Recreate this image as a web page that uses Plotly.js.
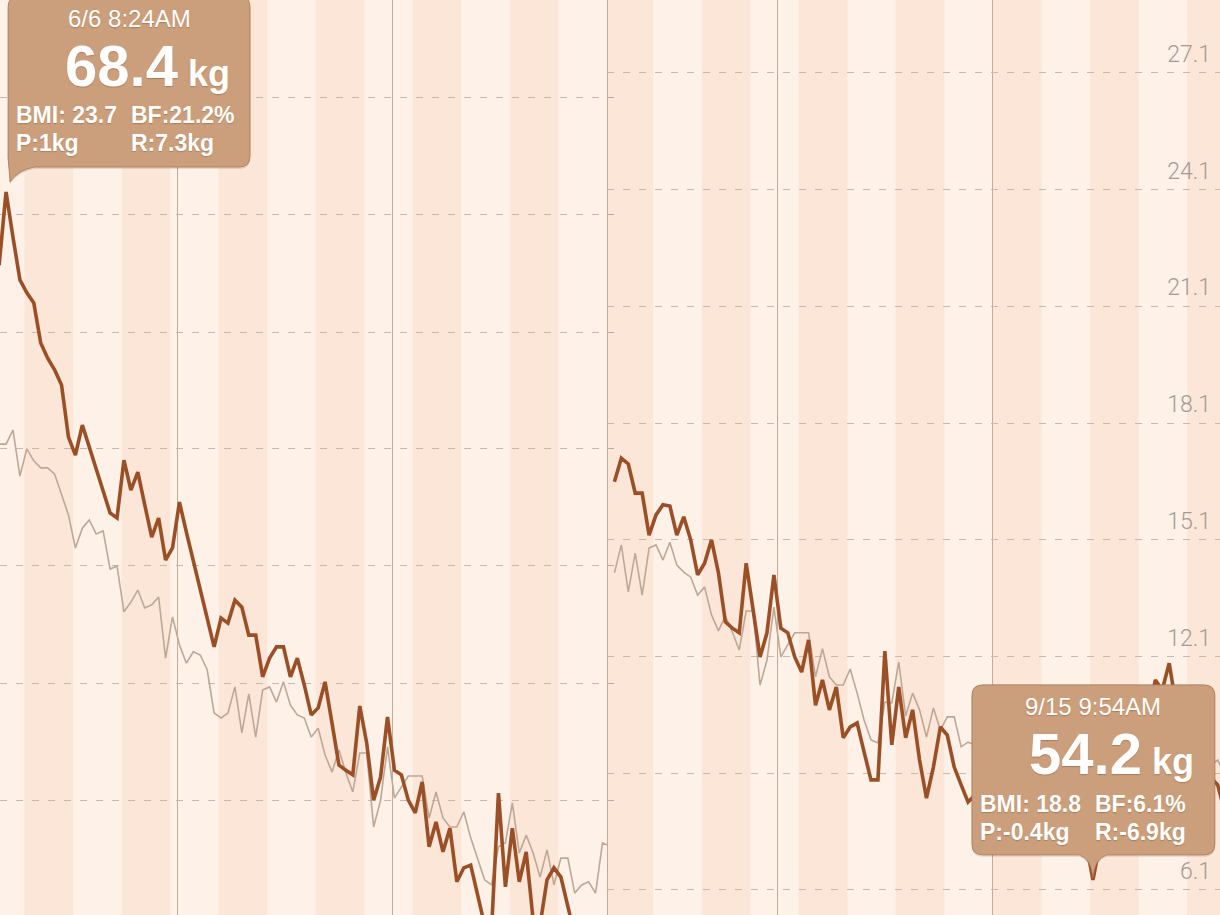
<!DOCTYPE html>
<html>
<head>
<meta charset="utf-8">
<script src="https://cdn.plot.ly/plotly-3.0.1.min.js"></script>
<style>
  html, body { margin: 0; padding: 0; background: #fdf1e8; }
  #chart { width: 1220px; height: 915px; }
</style>
</head>
<body>
<div id="chart"></div>
<script>
// daily readings, first reading of each panel
const leftStart = "2013-06-05 08:24";
const rightStart = "2013-07-08 09:54";

// brown line (weight) and grey line (body fat) in axis units
const leftWeight = [
  22.16, 24.04, 22.88, 21.78, 21.45, 21.19, 20.16, 19.77, 19.47, 19.08,
  17.74, 17.28, 18.05, 17.49, 16.95, 16.38, 15.79, 15.66, 17.15, 16.38,
  16.84, 16.00, 15.17, 15.66, 14.58, 14.89, 16.07, 15.30, 14.56, 13.79,
  13.04, 12.35, 13.09, 12.96, 13.55, 13.37, 12.65, 12.65, 11.58, 12.06,
  12.35, 12.35, 11.58, 12.06, 11.37, 10.60, 10.78, 11.45, 10.39, 9.31,
  9.18, 9.06, 10.83, 9.88, 8.41, 9.00, 10.55, 9.18, 9.06, 8.41,
  8.08, 8.88, 7.21, 7.85, 7.08, 7.69, 6.31, 6.67, 6.74, 6.02,
  5.20, 5.07, 8.59, 6.18, 7.69, 6.31, 7.08, 5.33, 5.20, 6.36,
  6.67, 6.43, 5.71, 4.94
];
const leftBodyFat = [
  17.56, 17.56, 17.92, 16.74, 17.44, 17.13, 16.95, 16.95, 16.79, 16.25,
  15.74, 14.89, 15.40, 15.61, 15.25, 15.33, 14.35, 14.43, 13.25, 13.50,
  13.81, 13.35, 13.43, 13.63, 12.06, 13.12, 12.40, 11.93, 12.22, 12.14,
  11.76, 10.65, 10.52, 10.65, 11.32, 10.14, 11.14, 10.03, 11.24, 11.32,
  10.93, 11.45, 10.85, 10.60, 10.52, 10.03, 10.26, 9.57, 9.13, 9.70,
  9.11, 8.62, 9.62, 9.62, 7.72, 8.41, 9.78, 8.46, 8.75, 9.03,
  9.03, 9.03, 7.95, 8.62, 7.95, 7.72, 7.72, 8.11, 7.44, 6.87,
  6.36, 6.23, 7.21, 7.31, 8.34, 7.05, 7.51, 7.05, 6.43, 7.13,
  6.23, 6.92, 6.92, 6.02, 6.23, 6.31, 6.02, 7.31, 7.23
];
const rightWeight = [
  16.59, 17.20, 17.05, 16.30, 16.30, 15.22, 15.74, 16.00, 15.97, 15.22,
  15.69, 15.10, 14.20, 14.50, 15.10, 14.25, 12.99, 12.83, 12.71, 14.50,
  13.30, 12.09, 12.71, 14.20, 12.83, 12.71, 12.09, 11.70, 12.53, 10.85,
  11.50, 10.73, 11.32, 10.01, 10.29, 10.39, 9.65, 8.93, 8.93, 12.24,
  9.83, 11.32, 10.01, 10.73, 9.44, 8.46, 9.26, 10.29, 10.08, 9.26,
  8.80, 8.36, 8.54, 8.16, 8.41, 7.90, 8.11, 7.64, 7.95, 7.51,
  7.77, 7.39, 7.64, 7.33, 7.51, 7.26, 7.44, 7.23, 7.33, 6.36,
  7.26, 7.64, 8.03, 8.41, 8.80, 9.18, 9.83, 10.47, 11.50, 11.24,
  11.93, 10.85, 10.21, 9.83, 9.44, 9.18, 8.98, 8.80, 8.11
];
const rightBodyFat = [
  14.25, 14.97, 13.76, 14.76, 13.68, 14.89, 14.97, 14.58, 15.04, 14.45,
  14.27, 14.14, 13.68, 13.89, 13.17, 12.76, 13.14, 12.73, 12.27, 13.27,
  13.27, 11.37, 12.01, 13.37, 12.09, 12.42, 12.71, 12.71, 12.71, 11.58,
  12.30, 11.58, 11.37, 11.37, 11.78, 11.16, 10.47, 9.96, 9.88, 10.93,
  10.91, 11.96, 10.57, 11.16, 10.73, 10.03, 10.78, 10.21, 10.55, 10.55,
  9.78, 9.90, 9.83, 9.70, 9.75, 9.49, 9.44, 9.31, 9.18, 9.23,
  9.06, 8.93, 8.80, 8.67, 8.72, 8.54, 8.41, 8.28, 8.16, 8.03,
  8.21, 8.41, 8.54, 8.67, 8.80, 8.93, 9.06, 9.18, 9.31, 9.44,
  9.49, 9.44, 9.39, 9.31, 9.44, 9.39, 9.31, 9.44, 9.06
];

const rightTicks = [6.1, 9.1, 12.1, 15.1, 18.1, 21.1, 24.1, 27.1];
const leftTicks = [8.41, 11.42, 14.43, 17.44, 20.44, 23.45, 26.46];

const callouts = [
  { when: "2013-06-06 08:24", header: "6/6 8:24AM", weight: "68.4", bmi: "BMI: 23.7", bf: "BF:21.2%", p: "P:1kg", r: "R:7.3kg" },
  { when: "2013-09-15 09:54", header: "9/15 9:54AM", weight: "54.2", bmi: "BMI: 18.8", bf: "BF:6.1%", p: "P:-0.4kg", r: "R:-6.9kg" },
];

(() => {
    "use strict";

    const DAY = 864e5;
    const toMs = (s) => Date.parse(s.replace(" ", "T") + ":00Z");
    const fmt = (ms) => new Date(ms).toISOString().slice(0, 16).replace("T", " ");
    const dailyDates = (start, n) => Array.from({ length: n }, (_, i) => fmt(toMs(start) + i * DAY));

    const leftDates = dailyDates(leftStart, leftBodyFat.length);
    const rightDates = dailyDates(rightStart, rightBodyFat.length);

    const yRange = [5.457, 28.976];
    const brown = "#9a4f27";
    const grey = "#bea795";
    const monthLine = "#c3aa9a";
    const dashLine = "#cdb6aa";
    const paleWeek = "#fdf1e8";
    const darkWeek = "#fce6d8";

    const line = (x, y, xa, ya, color, width) => ({
        x, y, xaxis: xa, yaxis: ya, type: "scatter", mode: "lines",
        line: { color, width }, hoverinfo: "skip",
    });

    const traces = [
        line(leftDates, leftBodyFat, "x", "y", grey, 1.6),
        line(leftDates.slice(0, leftWeight.length), leftWeight, "x", "y", brown, 3.6),
        line(rightDates, rightBodyFat, "x2", "y2", grey, 1.6),
        line(rightDates, rightWeight, "x2", "y2", brown, 3.6),
    ];

    // weekly background bands, every other week darker
    const shapes = [];
    for (let t = toMs("2013-05-26 00:00"); t < toMs("2013-10-20 00:00"); t += 14 * DAY) {
        [["x", "y domain"], ["x2", "y2 domain"]].forEach(([xr, yr]) => {
            shapes.push({
                type: "rect", layer: "below", xref: xr, yref: yr,
                x0: fmt(t), x1: fmt(t + 7 * DAY), y0: 0, y1: 1,
                fillcolor: darkWeek, line: { width: 0 },
            });
        });
    }

    // speech bubbles, drawn in pixels around the reading they point at
    const boxes = [
        { l: 2, r: 244, t: -196, b: -25, tail: "corner" },
        { l: -121, r: 122, t: -195, b: -25, tail: "center" },
    ];
    const bubblePath = (b, dy) => {
        const R = 11;
        const p = (x, y) => `${x},${-(y + dy)}`;
        let d = `M${p(b.l + R, b.t)} L${p(b.r - R, b.t)} Q${p(b.r, b.t)} ${p(b.r, b.t + R)}`;
        d += ` L${p(b.r, b.b - R)} Q${p(b.r, b.b)} ${p(b.r - R, b.b)}`;
        if (b.tail === "corner") {
            d += ` L${p(b.l + 26, b.b)} Q${p(b.l + 10, b.b + 3)} ${p(b.l + 2, b.b + 15)}`;
            d += ` Q${p(b.l + 1, b.b + 2)} ${p(b.l, b.b - 9)}`;
        } else {
            d += ` L${p(14, b.b)} Q${p(2, b.b + 3)} ${p(0, -1)} Q${p(-2, b.b + 3)} ${p(-14, b.b)}`;
            d += ` L${p(b.l + R, b.b)} Q${p(b.l, b.b)} ${p(b.l, b.b - R)}`;
        }
        d += ` L${p(b.l, b.t + R)} Q${p(b.l, b.t)} ${p(b.l + R, b.t)} Z`;
        return d;
    };

    const annotations = [];
    const textFont = (size, weight) => ({
        family: "Liberation Sans, Arial, sans-serif", size, color: "#ffffff", weight,
        shadow: "0px 1px 1px rgba(110,65,30,0.35)",
    });

    callouts.forEach((c, i) => {
        const dates = i === 0 ? leftDates : rightDates;
        const weights = i === 0 ? leftWeight : rightWeight;
        const idx = dates.indexOf(c.when);
        const xr = i === 0 ? "x" : "x2";
        const yr = i === 0 ? "y" : "y2";
        const b = boxes[i];
        const base = {
            type: "path", layer: "above", xref: xr, yref: yr,
            xsizemode: "pixel", ysizemode: "pixel",
            xanchor: dates[idx], yanchor: weights[idx],
        };
        shapes.push({ ...base, path: bubblePath(b, 2), fillcolor: "rgba(110,60,25,0.16)", line: { width: 0 } });
        shapes.push({ ...base, path: bubblePath(b, 0), fillcolor: "#cc9f7c", line: { color: "rgba(160,110,72,0.7)", width: 1 } });

        const note = (text, dx, dy, font, anchor) => annotations.push({
            xref: xr, yref: yr, x: dates[idx], y: weights[idx], text, showarrow: false,
            xanchor: anchor, yanchor: "middle", xshift: dx, yshift: -dy, font,
        });
        const mid = (b.l + b.r) / 2;
        note(c.header, mid, b.t + 22, textFont(24, 400), "center");
        note(`${c.weight}<span style="font-size:36px"> kg</span>`, mid + 18, b.t + 69, textFont(58, 700), "center");
        note(c.bmi, b.l + 6, b.t + 119, textFont(23, 700), "left");
        note(c.bf, b.l + 121, b.t + 119, textFont(23, 700), "left");
        note(c.p, b.l + 6, b.t + 147, textFont(23, 700), "left");
        note(c.r, b.l + 121, b.t + 147, textFont(23, 700), "left");
    });

    const splitX = 607 / 1220;
    const monthAxis = (domain, range) => ({
        domain, range, type: "date", showgrid: true, gridcolor: monthLine, gridwidth: 1,
        dtick: "M1", tick0: "2013-07-01", showticklabels: false, ticks: "",
        zeroline: false, showline: false, fixedrange: true,
    });

    const layout = {
        width: 1220, height: 915,
        margin: { l: 0, r: 0, t: 0, b: 0 },
        paper_bgcolor: paleWeek, plot_bgcolor: paleWeek,
        showlegend: false,
        xaxis: { ...monthAxis([0, splitX], ["2013-06-05 11:27", "2013-09-01 00:00"]), anchor: "y" },
        xaxis2: { ...monthAxis([splitX, 1], ["2013-07-07 08:14", "2013-10-03 17:45"]), anchor: "y2" },
        yaxis: {
            anchor: "x", range: yRange, side: "right", tickvals: leftTicks,
            showgrid: true, gridcolor: dashLine, griddash: "7px,9px", gridwidth: 1,
            showline: true, linecolor: monthLine, linewidth: 1,
            ticks: "outside", ticklen: 6, tickcolor: monthLine,
            showticklabels: false, zeroline: false, fixedrange: true,
        },
        yaxis2: {
            anchor: "x2", range: yRange, side: "right", tickvals: rightTicks,
            ticktext: rightTicks.map((v) => v.toFixed(1)),
            ticklabelposition: "inside", ticklabelshift: -19, ticklabelstandoff: 6,
            tickfont: { family: "Roboto, Liberation Sans, sans-serif", size: 23, color: "#a39a95", weight: 300 },
            showgrid: true, gridcolor: dashLine, griddash: "7px,9px", gridwidth: 1,
            showline: false, ticks: "", zeroline: false, fixedrange: true,
        },
        shapes,
        annotations,
    };

    Plotly.newPlot("chart", traces, layout, { displayModeBar: false, staticPlot: true });
})();
</script>
</body>
</html>
